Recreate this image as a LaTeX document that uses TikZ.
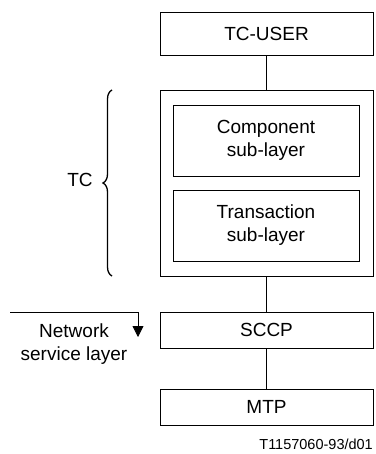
\documentclass[tikz,border=0pt]{standalone}
\usepackage{fontspec}
\setmainfont{Liberation Sans}
\usetikzlibrary{decorations.pathreplacing,arrows.meta}
\begin{document}
\begin{tikzpicture}[x=1pt,y=-1pt,
  box/.style={draw, line width=0.8pt, inner sep=0pt, align=center, font=\fontsize{19}{23}\selectfont},
  conn/.style={line width=1.6pt},
  lbl/.style={align=center, inner sep=0pt, font=\fontsize{19}{23}\selectfont}]
\useasboundingbox (0,0) rectangle (375,454);
\node[box, minimum width=213pt, minimum height=43pt] (tcuser) at (266.5,33.5) {TC-USER};
\node[box, minimum width=213pt, minimum height=186pt] (tc) at (266.5,183) {};
\node[box, minimum width=186pt, minimum height=71pt] (comp) at (266,140.5) {Component\\sub-layer};
\node[box, minimum width=186pt, minimum height=71pt] (trans) at (266,225.5) {Transaction\\sub-layer};
\node[box, minimum width=213pt, minimum height=36pt] (sccp) at (266.5,330) {SCCP};
\node[box, minimum width=213pt, minimum height=36pt] (mtp) at (266.5,407) {MTP};
\draw[conn] (tcuser.south) -- (tc.north);
\draw[conn] (tc.south) -- (sccp.north);
\draw[conn] (sccp.south) -- (mtp.north);
\coordinate (bb) at (112,276);
\coordinate (bt) at (112,90);
\draw[line width=1.3pt, decorate, decoration={brace, amplitude=9pt}] (bb) -- (bt);
\node[lbl] (tclbl) at (80,180) {TC};
\coordinate (ns) at (10,312);
\coordinate (ne) at (138,337);
\draw[line width=0.8pt, -{Triangle[length=11pt,width=11pt]}] (ns) -| (ne);
\node[lbl] (net) at (74,344) {Network\\service layer};
\node[anchor=base east, inner sep=0pt, font=\fontsize{14.5}{17}\selectfont] (cap) at (373,449) {T1157060-93/d01};
\end{tikzpicture}
\end{document}
